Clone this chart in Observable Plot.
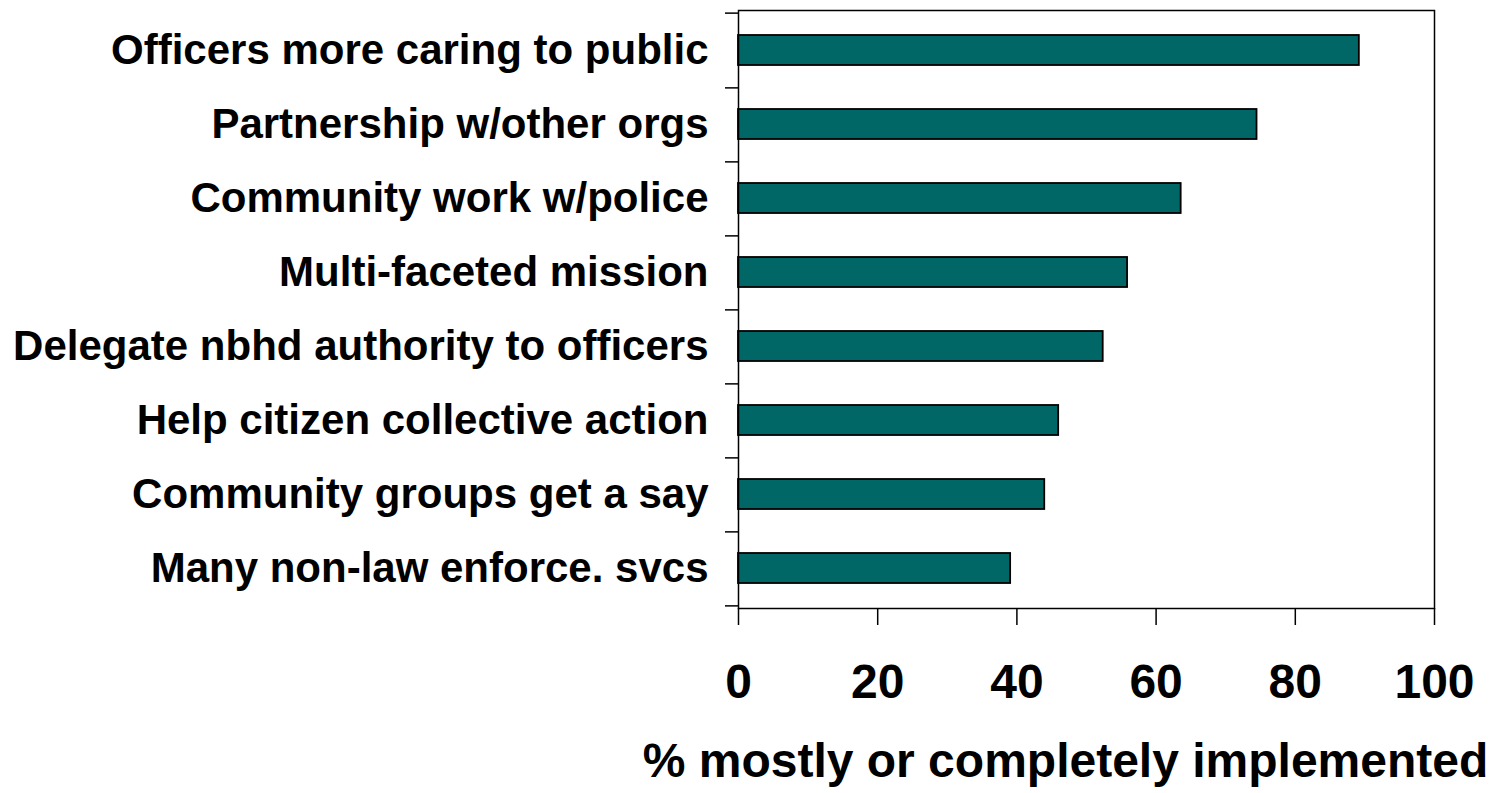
<!DOCTYPE html>
<html>
<head>
<meta charset="utf-8">
<script src="https://cdn.jsdelivr.net/npm/d3@7"></script>
<script src="https://cdn.jsdelivr.net/npm/@observablehq/plot@0.6"></script>
<style>
  html, body { margin: 0; padding: 0; background: #fff; }
  #chart svg { display: block; }
</style>
</head>
<body>
<div id="chart"></div>
<script>
const categories = [
  "Officers more caring to public",
  "Partnership w/other orgs",
  "Community work w/police",
  "Multi-faceted mission",
  "Delegate nbhd authority to officers",
  "Help citizen collective action",
  "Community groups get a say",
  "Many non-law enforce. svcs"
];
const values = [89.2, 74.5, 63.6, 55.9, 52.4, 46.0, 44.0, 39.1];
const xTicks = [0, 20, 40, 60, 80, 100];
const xTitle = "% mostly or completely implemented";

const data = categories.map((c, i) => ({category: c, value: values[i]}));

const W = 1506, H = 793;
const mTop = 10, mBottom = 185, mLeft = 738, mRight = 72;
const step = (H - mTop - mBottom) / categories.length;
const font = "'Liberation Sans', Arial, sans-serif";

const chart = Plot.plot({
  width: W,
  height: H,
  marginTop: mTop,
  marginBottom: mBottom,
  marginLeft: mLeft,
  marginRight: mRight,
  style: {fontFamily: font, fontWeight: "bold", color: "#000", background: "#fff"},
  x: {domain: [0, 100]},
  y: {domain: categories, paddingInner: 0.6, paddingOuter: 0.3},
  marks: [
    Plot.barX(data, {x: "value", y: "category", fill: "#006666", stroke: "#000", strokeWidth: 1.8}),
    Plot.frame({stroke: "#000", strokeWidth: 1.5}),
    Plot.axisY({tickSize: 13, tickFormat: () => "", dy: step / 2, strokeWidth: 1.5, label: null}),
    Plot.axisY(categories.slice(0, 1), {tickSize: 13, tickFormat: () => "", dy: -step / 2, strokeWidth: 1.5, label: null}),
    Plot.axisY({tickSize: 0, tickPadding: 30, fontSize: 42, label: null}),
    Plot.axisX({ticks: xTicks, tickSize: 17, tickPadding: 38, fontSize: 48, label: null, strokeWidth: 1.5}),
    Plot.text([xTitle], {frameAnchor: "bottom", dy: 168, dx: -21, fontSize: 48, fontWeight: "bold", fill: "#000"})
  ]
});
document.getElementById("chart").appendChild(chart);
</script>
</body>
</html>
